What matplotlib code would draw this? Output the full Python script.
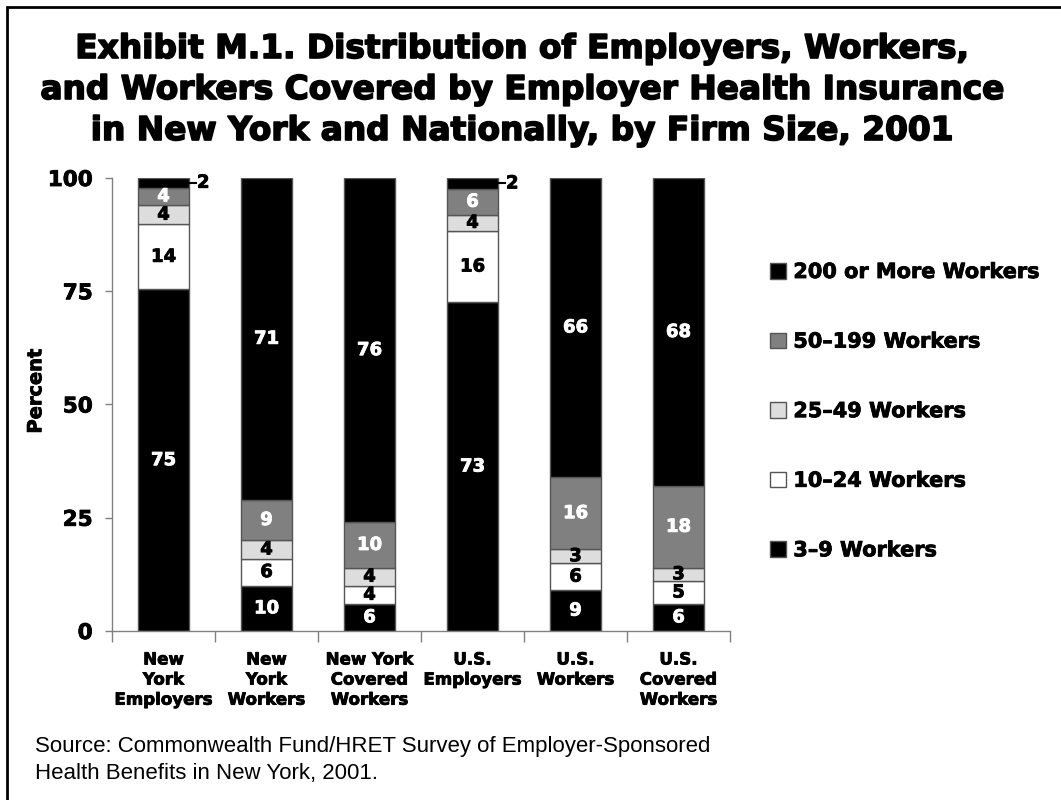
import matplotlib
matplotlib.use("Agg")
import matplotlib.pyplot as plt
import matplotlib.patheffects as pe
from matplotlib.patches import Patch, Rectangle
import numpy as np

plt.rcParams['font.family'] = ['DejaVu Sans']
plt.rcParams['font.weight'] = 'bold'

categories = ["New\nYork\nEmployers", "New\nYork\nWorkers", "New York\nCovered\nWorkers",
              "U.S.\nEmployers", "U.S.\nWorkers", "U.S.\nCovered\nWorkers"]
size_groups = ["3\u20139 Workers", "10\u201324 Workers", "25\u201349 Workers",
               "50\u2013199 Workers", "200 or More Workers"]

# percent in each firm size group, stacked bottom to top
workers_3_9 = [75.4, 10, 6, 72.6, 9, 6]
workers_10_24 = [14.4, 6, 4, 15.7, 6, 5]
workers_25_49 = [4.2, 4, 4, 3.6, 3, 3]
workers_50_199 = [3.9, 9, 10, 5.7, 16, 18]
workers_200_plus = [2.1, 71, 76, 2.4, 66, 68]

title_lines = ["Exhibit M.1. Distribution of Employers, Workers,",
               "and Workers Covered by Employer Health Insurance",
               "in New York and Nationally, by Firm Size, 2001"]
source_lines = ["Source: Commonwealth Fund/HRET Survey of Employer-Sponsored",
                "Health Benefits in New York, 2001."]

series = [workers_3_9, workers_10_24, workers_25_49, workers_50_199, workers_200_plus]
colors = ["#000000", "#ffffff", "#dddddd", "#808080", "#000000"]
text_colors = ["white", "black", "black", "white", "white"]
edge = "#555555"


def heavy(color="black", w=0.6):
    return [pe.withStroke(linewidth=w, foreground=color)]


fig = plt.figure(figsize=(10.61, 8.0), dpi=100)
ax = fig.add_axes([112 / 1061, 1 - 631 / 800, 618 / 1061, 453 / 800])

x = np.arange(len(categories))
width = 0.5
bottom = np.zeros(len(categories))
for vals, col, tcol in zip(series, colors, text_colors):
    vals = np.array(vals, dtype=float)
    ax.bar(x, vals, width, bottom=bottom, color=col, edgecolor=edge, linewidth=1)
    for xi, b, v in zip(x, bottom, vals):
        yc = b + v / 2
        if v < 3 and col == colors[-1]:
            # small top slice: label outside with a leader line
            ax.plot([xi + width / 2, xi + width / 2 + 0.07], [yc, yc], color="black",
                    lw=1.5, clip_on=False)
            ax.text(xi + width / 2 + 0.075, yc, f"{round(v)}", ha="left", va="center",
                    fontsize=13, color="black", path_effects=heavy())
        else:
            ax.text(xi, yc, f"{round(v)}", ha="center", va="center",
                    fontsize=13, color=tcol, path_effects=heavy(tcol))
    bottom += vals

ax.set_xlim(-0.5, 5.5)
ax.set_ylim(0, 100)
ax.set_yticks([0, 25, 50, 75, 100])
ax.tick_params(axis="y", direction="out", length=5, width=1, color="#808080",
               pad=9, labelsize=15.5)
ax.set_xticks(x)
ax.set_xticklabels(categories, fontsize=12, linespacing=1.15)
ax.tick_params(axis="x", which="major", length=0, pad=14)
ax.set_xticks(np.arange(-0.5, 6, 1), minor=True)
ax.tick_params(axis="x", which="minor", direction="out", length=8, width=1, color="#808080")
for lab in ax.get_yticklabels() + ax.get_xticklabels():
    lab.set_path_effects(heavy())
for s in ["top", "right"]:
    ax.spines[s].set_visible(False)
for s in ["left", "bottom"]:
    ax.spines[s].set_color("#808080")
    ax.spines[s].set_linewidth(1)

ax.set_ylabel("Percent", fontsize=14, fontweight="bold", path_effects=heavy())
ax.yaxis.set_label_coords(-0.108, 0.53)

handles = [Patch(facecolor=c, edgecolor=edge, linewidth=1) for c in colors]
leg = fig.legend(handles[::-1], size_groups[::-1], loc="upper left",
                 bbox_to_anchor=(770 / 1061, 1 - 262 / 800), frameon=False,
                 prop={"size": 15, "weight": "bold"}, handlelength=0.77, handleheight=0.77,
                 handletextpad=0.35, labelspacing=2.38, borderaxespad=0, borderpad=0)
for t in leg.get_texts():
    t.set_path_effects(heavy())

for line, base in zip(title_lines, [58, 99, 140]):
    fig.text(522 / 1061, 1 - base / 800, line, ha="center", va="baseline",
             fontsize=23.6, fontweight="bold", path_effects=heavy(w=1.2))

for line, base in zip(source_lines, [752, 779]):
    fig.text(35 / 1061, 1 - base / 800, line, ha="left", va="baseline",
             fontsize=16, fontweight="normal", family="Liberation Sans")

fig.add_artist(Rectangle((6.5 / 1061, -0.1), 1.5, 0.1 + 1 - 7.5 / 800, fill=False,
                         edgecolor="black", linewidth=2, transform=fig.transFigure))

fig.savefig("out.png", dpi=100)
